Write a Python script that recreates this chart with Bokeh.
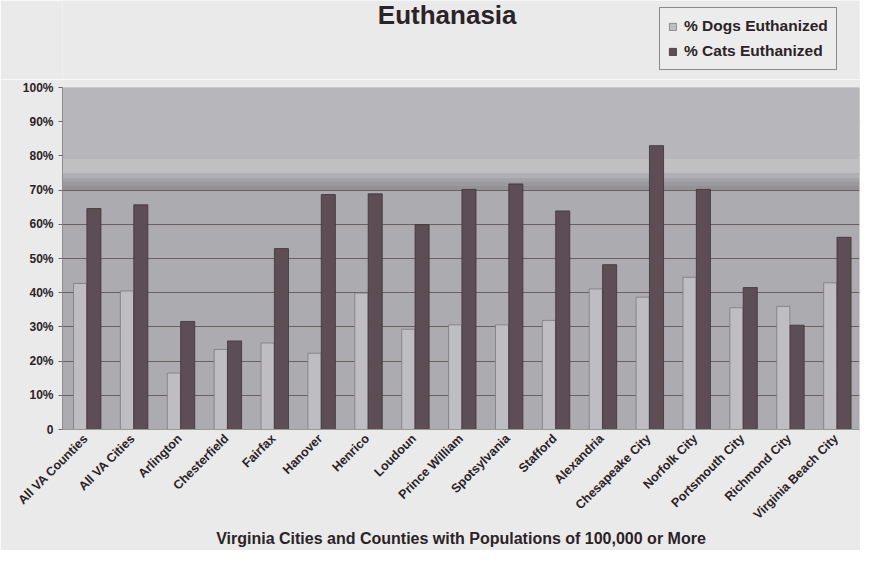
import math
from bokeh.plotting import figure
from bokeh.layouts import column
from bokeh.models import (ColumnDataSource, FactorRange, FixedTicker, Legend,
                          LegendItem, Label, BoxAnnotation)
from bokeh.transform import dodge
from bokeh.embed import file_html
from bokeh.resources import INLINE

places = ["All VA Counties", "All VA Cities", "Arlington", "Chesterfield", "Fairfax",
          "Hanover", "Henrico", "Loudoun", "Prince William", "Spotsylvania", "Stafford",
          "Alexandria", "Chesapeake City", "Norfolk City", "Portsmouth City",
          "Richmond City", "Virginia Beach City"]
dogs_pct = [42.7, 40.5, 16.5, 23.4, 25.3, 22.3, 39.9, 29.3, 30.6, 30.6, 31.9,
            41.1, 38.7, 44.5, 35.6, 36.0, 42.9]
cats_pct = [64.6, 65.7, 31.6, 25.9, 52.9, 68.7, 68.9, 59.9, 70.2, 71.8, 63.9,
            48.2, 83.0, 70.2, 41.5, 30.5, 56.2]
y_ticks = [0, 10, 20, 30, 40, 50, 60, 70, 80, 90, 100]
y_tick_labels = ["0", "10%", "20%", "30%", "40%", "50%", "60%", "70%", "80%", "90%", "100%"]
series_names = ["% Dogs Euthanized", "% Cats Euthanized"]
title_text = "Euthanasia"
x_title = "Virginia Cities and Counties with Populations of 100,000 or More"

FONT = "Liberation Sans"
INK = "#2b2326"
PAPER = "#eaeaea"
DOG_FILL, DOG_LINE = "#bebdc1", "#7c7a7e"
CAT_FILL, CAT_LINE = "#5d4e55", "#3d3237"

W = 860
TOP_H = 79
MAIN_H = 550 - TOP_H
LEFT = 62   # frame left edge (shared by both figures through column alignment)

# ---------------- header strip: title + legend ----------------
top = figure(width=W, height=TOP_H, x_range=(0, 1), y_range=(0, 1),
             output_backend="svg", toolbar_location=None,
             min_border=0, min_border_left=0, min_border_right=0,
             min_border_top=0, min_border_bottom=0)
top.axis.visible = False
top.grid.visible = False
top.outline_line_color = None
top.background_fill_color = PAPER
top.border_fill_color = PAPER

# legend swatches: one-row proxies that lie outside the strip's visible range
proxy = ColumnDataSource(dict(x=[-5], top=[-5]))
g_dogs = top.vbar(x="x", top="top", width=1, source=proxy,
                  fill_color=DOG_FILL, line_color=DOG_LINE, line_width=0.8)
g_cats = top.vbar(x="x", top="top", width=1, source=proxy,
                  fill_color=CAT_FILL, line_color=CAT_LINE, line_width=0.8)

top.add_layout(Label(x=446.7 - LEFT, y=TOP_H - 14, x_units="screen", y_units="screen",
                     text=title_text, text_align="center",
                     text_baseline="alphabetic", text_font=FONT,
                     text_font_style="bold", text_font_size="26px", text_color=INK))

legend = Legend(items=[LegendItem(label=series_names[0], renderers=[g_dogs]),
                       LegendItem(label=series_names[1], renderers=[g_cats])],
                location=(659 - LEFT, TOP_H - 70), orientation="vertical",
                margin=0, padding=8, spacing=5, label_height=20, glyph_height=9,
                glyph_width=9, label_standoff=7,
                label_text_font=FONT, label_text_font_style="bold",
                label_text_font_size="15.5px", label_text_color=INK,
                background_fill_color="#ececec", background_fill_alpha=1.0,
                border_line_color="#2a2426", border_line_width=1)
top.add_layout(legend)

# ---------------- main chart ----------------
src = ColumnDataSource(dict(place=places, dogs=dogs_pct, cats=cats_pct))

p = figure(x_range=FactorRange(*places), y_range=(0, 100),
           width=W, height=MAIN_H, output_backend="svg", toolbar_location=None,
           min_border_left=LEFT, min_border_right=1, min_border_top=8,
           min_border_bottom=121)

p.background_fill_color = "#acabaf"
p.border_fill_color = PAPER
p.outline_line_color = None

# photographic shading of the plot area
shades = [(73.5, 100, "#b7b6ba"), (75, 79, "#c0bfc2"), (73.5, 75, "#b0afb3"),
          (72.5, 73.5, "#a3a2a7"), (71.3, 72.5, "#9a999e"), (70, 71.3, "#929196")]
for b, t, c in shades:
    p.add_layout(BoxAnnotation(bottom=b, top=t, fill_color=c, fill_alpha=1.0,
                               line_color=None, level="underlay"))

p.vbar(x=dodge("place", -0.125, range=p.x_range), top="dogs", width=0.28,
       source=src, fill_color=DOG_FILL, line_color=DOG_LINE, line_width=0.8)
p.vbar(x=dodge("place", 0.17, range=p.x_range), top="cats", width=0.30,
       source=src, fill_color=CAT_FILL, line_color=CAT_LINE, line_width=0.8)

# grid
p.xgrid.grid_line_color = None
p.ygrid.grid_line_color = "#6e5f63"
p.ygrid.grid_line_width = 1
p.ygrid.level = "underlay"

# y axis
p.yaxis.ticker = FixedTicker(ticks=y_ticks)
p.yaxis.major_label_overrides = {t: l for t, l in zip(y_ticks, y_tick_labels)}
p.yaxis.minor_tick_line_color = None
p.yaxis.major_tick_out = 4
p.yaxis.major_tick_in = 0
p.yaxis.major_label_standoff = 5
p.yaxis.axis_line_color = "#8e8c90"
p.yaxis.major_tick_line_color = "#6e6a6c"
p.yaxis.major_label_text_font = FONT
p.yaxis.major_label_text_font_style = "bold"
p.yaxis.major_label_text_font_size = "12px"
p.yaxis.major_label_text_color = INK

# x axis
p.xaxis.major_label_orientation = math.pi / 4
p.xaxis.major_label_text_font = FONT
p.xaxis.major_label_text_font_style = "bold"
p.xaxis.major_label_text_font_size = "12.5px"
p.xaxis.major_label_text_color = INK
p.xaxis.major_tick_line_color = None
p.xaxis.major_tick_out = 0
p.xaxis.major_tick_in = 0
p.xaxis.major_label_standoff = 7
p.xaxis.axis_line_color = "#9a989c"
p.xaxis.axis_label = x_title
p.xaxis.axis_label_text_font = FONT
p.xaxis.axis_label_text_font_style = "bold"
p.xaxis.axis_label_text_font_size = "16px"
p.xaxis.axis_label_text_color = INK
p.xaxis.axis_label_standoff = 0
p.x_range.range_padding = 0

layout = column(top, p, spacing=0)

open("out.html", "w").write(file_html(layout, INLINE))
